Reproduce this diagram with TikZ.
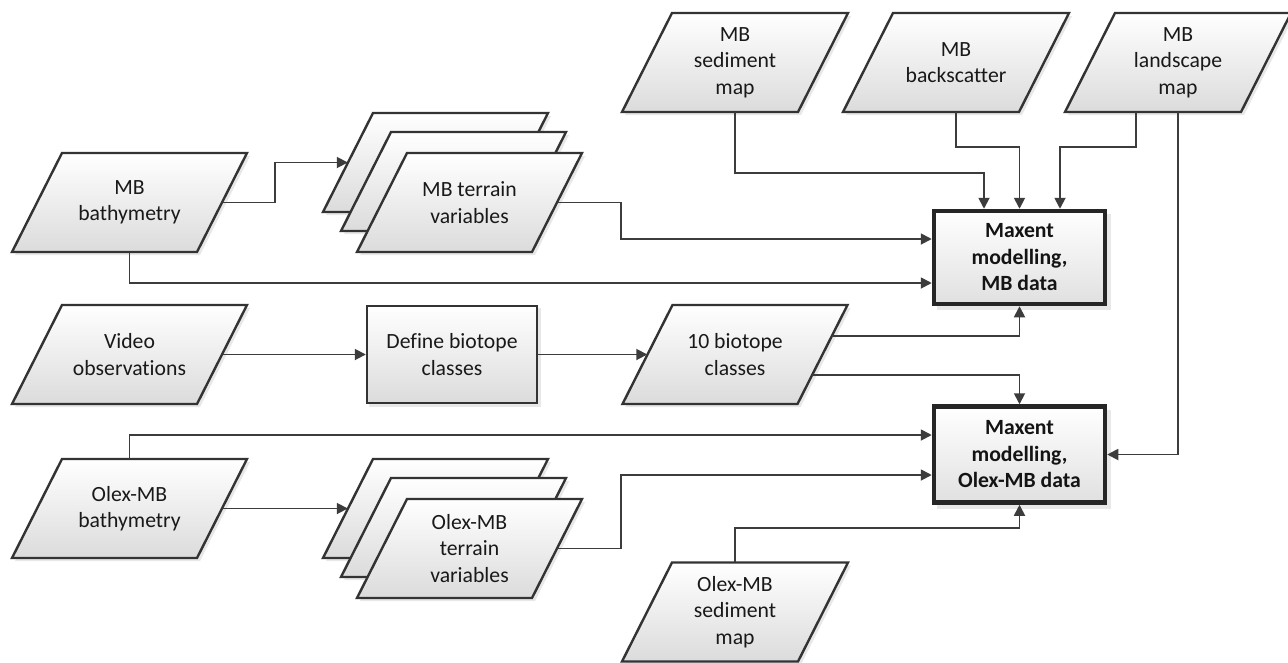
\documentclass[tikz,border=0pt]{standalone}
\usepackage{fontspec}
\setmainfont{Carlito}[Ligatures={NoCommon}]
\usetikzlibrary{calc,arrows.meta}
\definecolor{ln}{HTML}{333333}
\definecolor{cn}{HTML}{3C3C3C}
\tikzset{
  shp/.style={draw=ln, line width=2.4pt, line join=miter, top color=white, bottom color=black!14},
  shd/.style={fill=black!9, draw=none},
  txt/.style={inner sep=0pt, align=center, font=\fontsize{21.7}{26.5}\selectfont, text=black!90},
  conn/.style={draw=cn, line width=1.8pt, -{Triangle[length=11pt,width=11pt]}},
  rectbox/.style={draw=ln, line width=2.4pt, top color=white, bottom color=black!14, inner sep=0pt, align=center, font=\fontsize{21.7}{26.5}\selectfont, text=black!90},
  mxbox/.style={draw=black!85, line width=4.5pt, top color=white, bottom color=black!12, minimum width=171pt, minimum height=93pt, inner sep=0pt, align=center, font=\bfseries\fontsize{21.7}{26.5}\selectfont, text=black!92},
}
% name, cx, cy, width, height, text
\newcommand\paranode[6]{%
  \fill[shd] ({#2-#4/2+25+3},{#3-#5/2+3}) -- ({#2+#4/2+25+3},{#3-#5/2+3}) -- ({#2+#4/2-25+3},{#3+#5/2+3}) -- ({#2-#4/2-25+3},{#3+#5/2+3}) -- cycle;
  \path[shp] ({#2-#4/2+25},{#3-#5/2}) -- ({#2+#4/2+25},{#3-#5/2}) -- ({#2+#4/2-25},{#3+#5/2}) -- ({#2-#4/2-25},{#3+#5/2}) -- cycle;
  \node[txt, minimum width=#4pt, minimum height=#5pt] (#1) at (#2,#3) {#6};
}
\begin{document}
\begin{tikzpicture}[x=1pt,y=-1pt]
\useasboundingbox (0,0) rectangle (1288,662);
\fill[white] (0,0) rectangle (1288,662);

% top row
\paranode{sed}{735}{62.5}{176}{99}{MB\\sediment\\map}
\paranode{bs}{956}{62.5}{176}{99}{MB\\backscatter}
\paranode{land}{1178}{62.5}{176}{99}{MB\\landscape\\map}

% MB bathymetry + terrain stack
\paranode{bathy}{129.5}{202.5}{185}{99}{MB\\bathymetry}
\paranode{mbt3}{435.5}{162.5}{175}{99}{}
\paranode{mbt2}{453.5}{181.5}{175}{99}{}
\paranode{mbt1}{469.5}{202.5}{175}{99}{MB terrain\\variables}

% middle row
\paranode{video}{129.5}{354.5}{185}{99}{Video\\observations}
\fill[shd] (369,308) rectangle (541,407);
\node[rectbox, minimum width=170pt, minimum height=97pt] (def) at (452,354.5) {Define biotope\\classes};
\paranode{bio}{735}{354.5}{175}{99}{10 biotope\\classes}

% Olex row
\paranode{obathy}{129.5}{508.5}{185}{99}{Olex-MB\\bathymetry}
\paranode{olt3}{435.5}{508.5}{175}{99}{}
\paranode{olt2}{453.5}{527.5}{175}{99}{}
\paranode{olt1}{469.5}{548.5}{175}{99}{Olex-MB\\terrain\\variables}
\paranode{osed}{735}{612}{176}{99}{Olex-MB\\sediment\\map}

% Maxent boxes
\fill[shd] (937,214) rectangle (1111,310);
\node[mxbox] (mxa) at (1019.5,257.5) {Maxent\\modelling,\\MB data};
\fill[shd] (937,410) rectangle (1111,509);
\node[mxbox, minimum height=96pt] (mxb) at (1019.5,454.5) {Maxent\\modelling,\\Olex-MB data};

% connectors into MB maxent
\draw[conn] (bathy.east) -- ++(53,0) |- (mbt3.west);
\draw[conn] (bathy.south) |- ($(mxa.west)+(0,25.5)$);
\draw[conn] (mbt1.east) -- ++(64,0) |- ($(mxa.west)+(0,-18.5)$);
\draw[conn] (sed.south) -- ++(0,61) -| ($(mxa.north)+(-35.5,0)$);
\draw[conn] (bs.south) -- ++(0,35) -| (mxa.north);
\draw[conn] ($(land.south)+(-42,0)$) -- ++(0,35) -| ($(mxa.north)+(40.5,0)$);
\draw[conn] ($(bio.east)+(9.3,-18.5)$) -| (mxa.south);

% middle flow
\draw[conn] (video.east) -- (def.west);
\draw[conn] (def.east) -- (bio.west);

% connectors into Olex maxent
\draw[conn] (land.south) |- (mxb.east);
\draw[conn] ($(bio.east)+(-10.4,20.5)$) -| (mxb.north);
\draw[conn] (obathy.north) |- ($(mxb.west)+(0,-19.5)$);
\draw[conn] (obathy.east) -- (olt3.west);
\draw[conn] (olt1.east) -- ++(64,0) |- ($(mxb.west)+(0,20.5)$);
\draw[conn] (osed.north) -- ++(0,-34) -| (mxb.south);
\end{tikzpicture}
\end{document}
